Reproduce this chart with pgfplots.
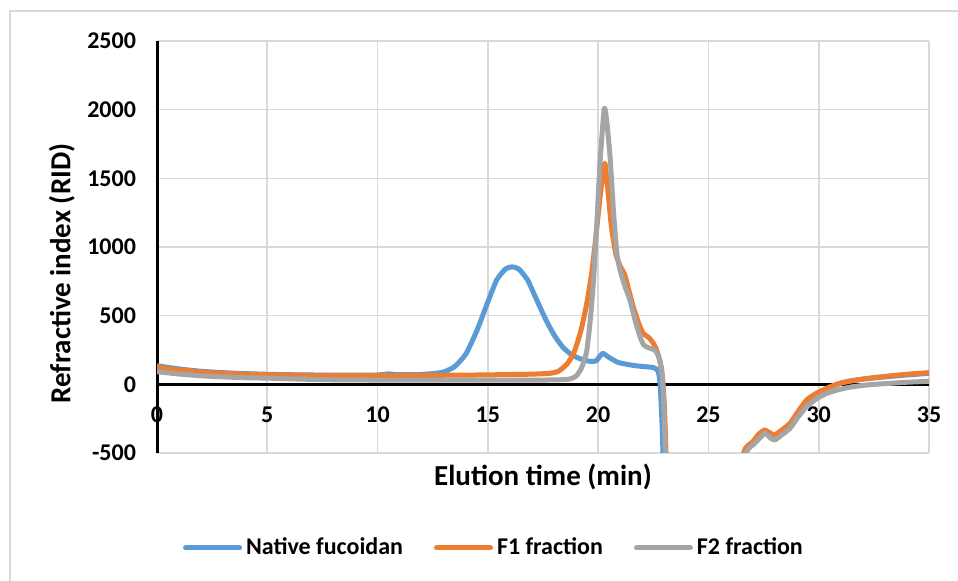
\documentclass[border=0pt]{standalone}
\usepackage{pgfplots}
\pgfplotsset{compat=1.18}
\usepackage{fontspec}
\setmainfont{Carlito}
\definecolor{cBlue}{HTML}{5B9BD5}
\definecolor{cOrange}{HTML}{ED7D31}
\definecolor{cGray}{HTML}{A5A5A5}
\definecolor{cGrid}{HTML}{D9D9D9}
\begin{document}
\begin{tikzpicture}[x=1pt,y=1pt]
\useasboundingbox (0,0) rectangle (479,290.5);
\fill[white] (0,0) rectangle (479,290.5);
\draw[cGrid, line width=0.75pt] (5,-10) rectangle (490,285);
\begin{axis}[
  at={(78.5pt,64pt)}, anchor=south west,
  width=386pt, height=206pt, scale only axis,
  xmin=0, xmax=35, ymin=-500, ymax=2500,
  xtick={0,5,...,35}, xticklabels={0,5,10,15,20,25,30,35},
  ytick={-500,0,500,1000,1500,2000,2500},
  yticklabels={-500,0,500,1000,1500,2000,2500},
  grid=major, grid style={cGrid, line width=0.8pt},
  axis line style={draw=none}, major tick length=0pt,
  tick label style={font=\fontsize{12}{14}\selectfont\bfseries},
  xticklabel style={anchor=center, yshift=19pt},
  yticklabel style={anchor=east, xshift=-7pt},
  label style={font=\fontsize{14.5}{17}\selectfont\bfseries},
  xlabel={Elution time (min)},
  ylabel={Refractive index (RID)},
  xlabel style={at={(axis description cs:0.5,-0.0583)}, anchor=center},
  ylabel style={at={(axis description cs:-0.1234,0.4357)}, anchor=center},
  clip mode=individual,
  legend style={draw=none, fill=none, at={(axis description cs:0.4378,-0.2306)}, anchor=center,
    legend columns=3, font=\fontsize{12}{14}\selectfont\bfseries,
    /tikz/every even column/.append style={column sep=13.5pt}},
  legend cell align=left,
  legend image code/.code={\draw[#1, line cap=round] (0pt,0pt) -- (27pt,0pt);},
  every axis plot/.append style={line width=2.5pt, line join=round, no marks, smooth, tension=0.35},
]
\draw[black, line width=1.5pt] (axis cs:0,0) -- (axis cs:35,0);
\draw[black, line width=1.5pt] (axis cs:0,-500) -- (axis cs:0,2500);
\addplot[cBlue] coordinates {
(0,135)(1,112)(2,95)(3,85)(4,78)(5,73)(6,70)(7,68)(8,67)(9,67)(10,68)(10.5,76)(10.8,71)(11.5,70)(12,72)(12.5,78)(13,90)(13.5,130)(14,220)(14.5,390)(15,600)(15.4,760)(15.8,840)(16.1,855)(16.4,840)(16.8,760)(17.2,620)(17.6,480)(18,360)(18.4,270)(18.8,215)(19.2,185)(19.6,168)(19.9,170)(20.2,225)(20.5,195)(20.9,160)(21.5,140)(22,130)(22.5,122)(22.7,100)(22.8,20)(22.9,-300)(23,-800)(23.2,-1500)(24,-2500)(25.5,-2200)(26.3,-1000)(26.6,-515)(27.0,-430)(27.55,-340)(28.0,-378)(28.4,-335)(28.8,-265)(29.2,-175)(29.6,-105)(30,-60)(30.5,-22)(31,8)(31.5,26)(32,38)(33,54)(34,68)(35,80)
};
\addlegendentry{Native fucoidan}
\addplot[cOrange] coordinates {
(0,125)(1,105)(2,90)(3,80)(4,74)(5,70)(6,67)(7,65)(8,64)(9,63)(10,63)(11,64)(12,65)(13,66)(14,67)(15,69)(16,71)(17,74)(17.8,80)(18.2,95)(18.6,150)(18.9,230)(19.2,380)(19.45,560)(19.7,800)(19.9,1080)(20.1,1380)(20.3,1610)(20.45,1400)(20.6,1150)(20.8,950)(21.0,860)(21.2,800)(21.4,680)(21.6,560)(21.85,440)(22.05,370)(22.3,340)(22.5,300)(22.65,250)(22.8,170)(22.9,80)(23,-150)(23.1,-600)(23.3,-1500)(24,-2500)(25.5,-2200)(26.3,-1000)(26.6,-500)(27.0,-420)(27.3,-360)(27.55,-333)(27.8,-355)(28.0,-369)(28.35,-330)(28.7,-284)(29.1,-190)(29.45,-114)(29.9,-65)(30.36,-29)(30.8,0)(31.26,19)(32,38)(32.62,51)(33.5,66)(34.2,76)(35,85)
};
\addlegendentry{F1 fraction}
\addplot[cGray] coordinates {
(0,92)(1,75)(2,62)(3,54)(4,48)(5,45)(6,40)(7,36)(8,33)(9,32)(10,31)(11,30)(12,30)(14,30)(16,30)(18,32)(18.7,38)(19.0,60)(19.25,120)(19.48,240)(19.65,480)(19.8,780)(19.95,1200)(20.1,1650)(20.28,2010)(20.4,1900)(20.54,1658)(20.7,1250)(20.85,950)(21.0,830)(21.2,720)(21.44,614)(21.7,450)(21.9,347)(22.05,290)(22.2,272)(22.4,260)(22.6,245)(22.75,200)(22.85,120)(22.95,-30)(23.05,-500)(23.3,-1500)(24,-2500)(25.5,-2200)(26.3,-1000)(26.7,-510)(27.1,-430)(27.56,-357)(27.8,-390)(28.01,-405)(28.35,-365)(28.7,-320)(29.1,-230)(29.45,-163)(29.9,-105)(30.36,-66)(31,-35)(31.56,-17)(32.3,-3)(33.2,7)(34,15)(35,22)
};
\addlegendentry{F2 fraction}
\end{axis}
\end{tikzpicture}
\end{document}
